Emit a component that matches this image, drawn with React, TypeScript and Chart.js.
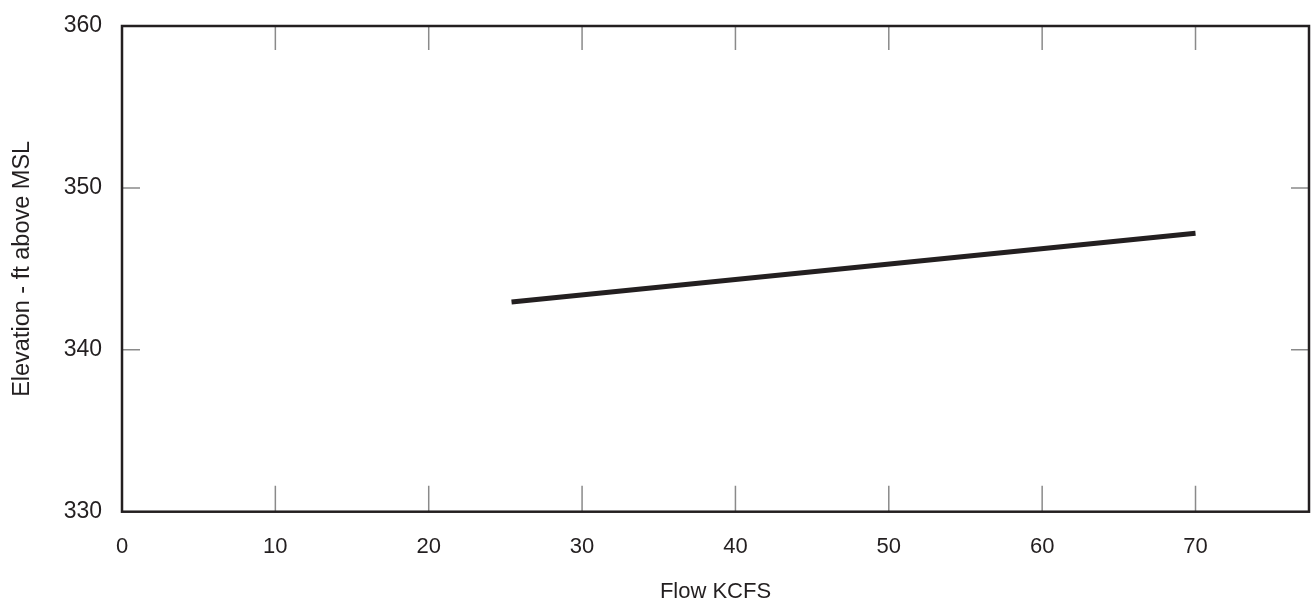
import React, { useEffect, useRef } from "react";
import Chart from "chart.js/auto";

const FLOW_KCFS = [25.4, 70];
const ELEVATION_FT = [342.95, 347.2];
const X_TICKS = [0, 10, 20, 30, 40, 50, 60, 70];
const Y_TICKS = [330, 340, 350, 360];
const X_MIN = 0;
const X_MAX = 77.4;
const Y_MIN = 330;
const Y_MAX = 360;

const TEXT = "#231f20";
const FONT = "'Liberation Sans', Arial, Helvetica, sans-serif";

const frameAndTicks = {
  id: "frameAndTicks",
  beforeDatasetsDraw(chart: any) {
    const { ctx, chartArea: a, scales } = chart;
    ctx.save();
    ctx.strokeStyle = "#8a8a8a";
    ctx.lineWidth = 1.5;
    ctx.beginPath();
    for (const v of X_TICKS) {
      if (v <= X_MIN || v >= X_MAX) continue;
      const px = scales.x.getPixelForValue(v);
      ctx.moveTo(px, a.top);
      ctx.lineTo(px, a.top + 24);
      ctx.moveTo(px, a.bottom);
      ctx.lineTo(px, a.bottom - 26);
    }
    for (const v of Y_TICKS) {
      if (v <= Y_MIN || v >= Y_MAX) continue;
      const py = scales.y.getPixelForValue(v);
      ctx.moveTo(a.left, py);
      ctx.lineTo(a.left + 18, py);
      ctx.moveTo(a.right, py);
      ctx.lineTo(a.right - 18, py);
    }
    ctx.stroke();
    ctx.restore();
  },
  afterDatasetsDraw(chart: any) {
    const { ctx, chartArea: a } = chart;
    ctx.save();
    ctx.strokeStyle = TEXT;
    ctx.lineWidth = 2.5;
    ctx.strokeRect(a.left, a.top, a.right - a.left, a.bottom - a.top);
    ctx.restore();
  },
};

export default function App() {
  const ref = useRef<HTMLCanvasElement>(null);
  useEffect(() => {
    document.body.style.margin = "0";
    const chart = new Chart(ref.current!, {
      type: "line",
      data: {
        datasets: [
          {
            data: FLOW_KCFS.map((x, i) => ({ x, y: ELEVATION_FT[i] })),
            borderColor: TEXT,
            borderWidth: 5,
            pointRadius: 0,
            tension: 0,
          },
        ],
      },
      options: {
        animation: false,
        responsive: false,
        maintainAspectRatio: false,
        layout: { autoPadding: false, padding: { top: 26, right: 5, left: 0, bottom: 0 } },
        plugins: { legend: { display: false }, tooltip: { enabled: false } },
        scales: {
          x: {
            type: "linear",
            min: X_MIN,
            max: X_MAX,
            afterBuildTicks: (s: any) => {
              s.ticks = X_TICKS.map((v) => ({ value: v }));
            },
            afterFit: (s: any) => {
              s.height = 95.3;
              s.paddingLeft = 0;
              s.paddingRight = 0;
            },
            grid: { display: false, drawTicks: false },
            border: { display: false },
            ticks: {
              color: TEXT,
              font: { family: FONT, size: 22 },
              padding: 22,
              maxRotation: 0,
              autoSkip: false,
            },
            title: {
              display: true,
              text: "Flow KCFS",
              color: TEXT,
              font: { family: FONT, size: 22 },
              padding: { top: 0, bottom: 2 },
            },
          },
          y: {
            type: "linear",
            min: Y_MIN,
            max: Y_MAX,
            afterBuildTicks: (s: any) => {
              s.ticks = Y_TICKS.map((v) => ({ value: v }));
            },
            afterFit: (s: any) => {
              s.width = 122;
              s.paddingTop = 0;
              s.paddingBottom = 0;
            },
            grid: { display: false, drawTicks: false },
            border: { display: false },
            ticks: {
              color: TEXT,
              font: { family: FONT, size: 23 },
              padding: 20,
            },
            title: {
              display: true,
              text: "Elevation - ft above MSL",
              color: TEXT,
              font: { family: FONT, size: 23.5 },
              padding: { top: 8, bottom: 0 },
            },
          },
        },
      },
      plugins: [frameAndTicks],
    } as any);
    return () => chart.destroy();
  }, []);
  return (
    <div style={{ position: "absolute", left: 0, top: 0, width: 1314, height: 607 }}>
      <canvas ref={ref} width={1314} height={607} style={{ width: 1314, height: 607 }} />
    </div>
  );
}
